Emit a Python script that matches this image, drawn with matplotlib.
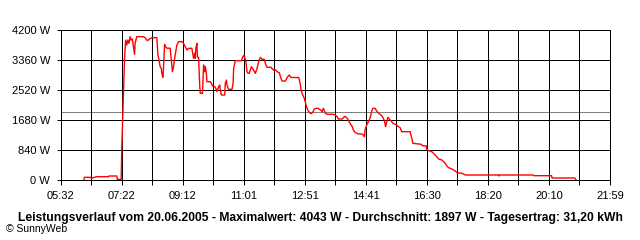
import numpy as np
import matplotlib
matplotlib.use('Agg')
import matplotlib.pyplot as plt

plt.rcParams['font.family'] = ['Liberation Sans', 'DejaVu Sans']

# Leistung (W) über den Tag
times = ["06:14", "06:15", "06:26", "06:27", "06:37", "06:58", "06:59", "07:13", "07:14", "07:21",
         "07:22", "07:25", "07:27", "07:29", "07:31", "07:33", "07:35", "07:37", "07:39", "07:41",
         "07:43", "07:45", "07:46", "07:49", "08:01", "08:04", "08:08", "08:12", "08:16", "08:25",
         "08:27", "08:29", "08:31", "08:33", "08:34", "08:36", "08:37", "08:39", "08:40", "08:43",
         "08:49", "08:51", "08:53", "08:55", "08:57", "09:01", "09:04", "09:10", "09:13", "09:16",
         "09:19", "09:22", "09:28", "09:31", "09:33", "09:34", "09:35", "09:37", "09:38", "09:40",
         "09:41", "09:42", "09:43", "09:47", "09:48", "09:49", "09:51", "09:52", "09:54", "09:55",
         "10:01", "10:03", "10:05", "10:09", "10:11", "10:13", "10:16", "10:18", "10:19", "10:21",
         "10:27", "10:28", "10:30", "10:31", "10:33", "10:34", "10:40", "10:42", "10:43", "10:46",
         "10:57", "10:59", "11:01", "11:03", "11:05", "11:07", "11:09", "11:11", "11:15", "11:18",
         "11:22", "11:25", "11:28", "11:31", "11:34", "11:38", "11:41", "11:43", "11:50", "11:53",
         "11:56", "11:59", "12:01", "12:05", "12:07", "12:10", "12:16", "12:19", "12:23", "12:26",
         "12:34", "12:40", "12:43", "12:44", "12:47", "12:50", "12:53", "12:56", "12:59", "13:02",
         "13:05", "13:08", "13:11", "13:15", "13:19", "13:22", "13:24", "13:28", "13:31", "13:42",
         "13:45", "13:49", "13:51", "13:58", "14:00", "14:03", "14:07", "14:09", "14:12", "14:16",
         "14:18", "14:21", "14:25", "14:27", "14:33", "14:36", "14:38", "14:39", "14:42", "14:45",
         "14:48", "14:51", "14:53", "14:57", "15:00", "15:03", "15:06", "15:09", "15:12", "15:14",
         "15:16", "15:18", "15:20", "15:23", "15:26", "15:29", "15:33", "15:36", "15:39", "15:42",
         "15:45", "16:00", "16:03", "16:05", "16:15", "16:20", "16:22", "16:29", "16:30", "16:33",
         "16:39", "16:42", "16:45", "16:48", "16:51", "16:57", "17:00", "17:03", "17:06", "17:09",
         "17:15", "17:18", "17:21", "17:24", "17:33", "17:36", "17:39", "18:39", "18:40", "18:41",
         "19:41", "19:42", "20:14", "20:15", "20:56", "20:58"]
watts = [0, 75, 75, 47, 93, 93, 112, 112, 19, 19,
         840, 2380, 3407, 3920, 3780, 3920, 3827, 4013, 3920, 3950,
         3733, 3519, 3827, 4013, 4013, 3985, 3901, 3950, 3985, 3985,
         3500, 3360, 3173, 3130, 2987, 2875, 3127, 3798, 3750, 3690,
         3690, 3360, 3033, 3173, 3407, 3780, 3873, 3873, 3827, 3733,
         3640, 3687, 3687, 3407, 3547, 3407, 3687, 3827, 3435, 3435,
         3033, 2660, 2427, 2427, 2847, 3220, 3033, 3173, 2987, 2753,
         2753, 2707, 2632, 2613, 2567, 2473, 2613, 2660, 2520, 2380,
         2380, 2707, 2800, 2660, 2567, 2539, 2539, 2707, 3127, 3341,
         3341, 3435, 3481, 3435, 3313, 3033, 2987, 2987, 3173, 3100,
         2987, 3127, 3313, 3435, 3380, 3380, 3220, 3155, 3155, 3100,
         3061, 3080, 3033, 3005, 2893, 2772, 2772, 2870, 2940, 2870,
         2870, 2870, 2660, 2520, 2380, 2287, 2100, 1960, 1895, 1857,
         1895, 1988, 2007, 2007, 1960, 1913, 2007, 1867, 1840, 1840,
         1820, 1773, 1708, 1708, 1745, 1783, 1727, 1680, 1587, 1493,
         1400, 1335, 1307, 1290, 1290, 1260, 1213, 1400, 1540, 1633,
         1727, 1932, 2007, 2007, 1932, 1867, 1840, 1800, 1727, 1633,
         1493, 1633, 1755, 1700, 1653, 1587, 1560, 1540, 1493, 1465,
         1353, 1353, 1167, 1027, 1010, 1000, 960, 953, 859, 822,
         793, 747, 700, 653, 588, 560, 513, 467, 392, 345,
         308, 280, 252, 205, 187, 168, 140, 140, 112, 140,
         140, 121, 121, 56, 56, 0]

y_ticks = [0, 840, 1680, 2520, 3360, 4200]
x_labels = ["05:32", "07:22", "09:12", "11:01", "12:51", "14:41", "16:30", "18:20", "20:10", "21:59"]
avg_w = 1897
title = ("Leistungsverlauf vom 20.06.2005 - Maximalwert: 4043 W - "
         "Durchschnitt: 1897 W - Tagesertrag: 31,20 kWh")


def to_min(s):
    h, m = s.split(':')
    return int(h) * 60 + int(m)


x = [to_min(t) for t in times]
px = 0.72  # 1 pixel in points

fig = plt.figure(figsize=(6.4, 2.4), dpi=100)
fig.set_facecolor('white')
ax = fig.add_axes([60.5 / 640, 60 / 240, 549.5 / 640, 150 / 240])

x0, x1 = to_min(x_labels[0]), to_min(x_labels[-1])
grid_x = np.linspace(x0, x1, 2 * len(x_labels) - 1)

for gx in grid_x:
    ax.axvline(gx, color='black', lw=px, antialiased=False, zorder=2)
for gy in y_ticks:
    ax.axhline(gy, color='black', lw=px, antialiased=False, zorder=2)
ax.axhline(avg_w, color='#808080', lw=px, antialiased=False, zorder=1)

ax.plot(x, watts, color='red', lw=1.0, zorder=3)

ax.set_xlim(x0, x1)
ax.set_ylim(0, 4200)
ax.set_xticks(grid_x)
ax.set_xticklabels([x_labels[i // 2] if i % 2 == 0 else '' for i in range(len(grid_x))])
ax.set_yticks(y_ticks)
ax.set_yticklabels([f"{v} W" for v in y_ticks])
ax.tick_params(axis='x', length=3.6, width=px, pad=4, labelsize=8, colors='black')
ax.tick_params(axis='y', length=3, width=px, pad=4.5, labelsize=8, colors='black')
for s in ax.spines.values():
    s.set_linewidth(px)
    s.set_color('black')

fig.text(0.5, 19 / 240, title, ha='center', va='baseline', fontsize=8.7, fontweight='bold')
fig.text(6 / 640, 7.5 / 240, "\u00a9 SunnyWeb", ha='left', va='baseline', fontsize=7.5)

fig.savefig('out.png', dpi=100, facecolor='white')
